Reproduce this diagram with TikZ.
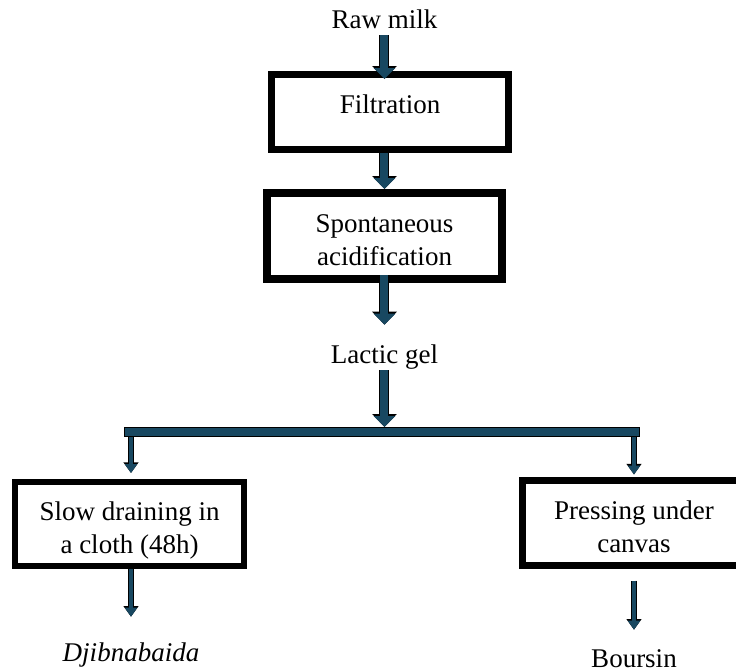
\documentclass[tikz,border=0pt]{standalone}
\usepackage{fontspec}
\setmainfont{Liberation Serif}
\usetikzlibrary{arrows.meta, positioning}
\definecolor{arrowblue}{RGB}{24,72,97}
\tikzset{
  box/.style={draw, line width=3.5pt, align=center, inner sep=0pt},
  lbl/.style={inner sep=0pt, text height=9.45pt, text depth=3.4pt, anchor=base},
  flow/.style={draw=arrowblue, line width=4pt, -{Triangle[width=10.5pt,length=5.5pt]},
    preaction={draw=black, line width=5pt, -{Triangle[width=12pt,length=6.5pt]}}},
  thinflow/.style={draw=arrowblue, line width=2pt, -{Triangle[width=6pt,length=4.5pt]},
    preaction={draw=black, line width=3pt, -{Triangle[width=7.2pt,length=5.3pt]}}},
  bar/.style={draw=arrowblue, line width=4pt, line cap=rect,
    preaction={draw=black, line width=5pt, line cap=rect}}
}

\begin{document}
\begin{tikzpicture}[x=0.5pt, y=-0.5pt, font=\fontsize{13.5}{16.5}\selectfont]
\useasboundingbox (0,0) rectangle (736,671);
\clip (0,0) rectangle (736,671);

\node[lbl] (raw) at (384.5,28) {Raw milk};
\node[box, text depth=8pt, minimum width=118.5pt, minimum height=37.5pt] (filt) at (390,112) {Filtration};
\node[box, line width=4pt, minimum width=117.5pt, minimum height=43pt] (acid) at (384.5,236) {\rule{0pt}{13.4pt}Spontaneous\\acidification};
\node[lbl] (gel) at (384.5,363) {Lactic gel};
\coordinate (split) at (384.5,432);
\node[box, line width=3pt, minimum width=114.5pt, minimum height=42pt] (drain) at (129.5,524) {\rule{0pt}{16.2pt}Slow draining in\\a cloth (48h)};
\node[box, minimum width=111.5pt, minimum height=42.5pt] (press) at (634,523) {\rule{0pt}{12.7pt}Pressing under\\canvas};
\node[lbl, font=\fontsize{13.5}{16.5}\selectfont\itshape] (djib) at (131,661) {Djibnabaida};
\node[lbl] (bour) at (634,667) {Boursin};
\coordinate (lsplit) at (djib |- split);
\coordinate (rsplit) at (bour |- split);

\draw[flow] (raw) -- ([yshift=-4pt]filt.north -| raw);
\draw[flow] (filt.south -| acid) -- (acid);
\draw[flow, shorten <=-4pt, shorten >=9.5pt] (acid) -- (gel);
\draw[flow, shorten >=2.5pt] (gel) -- (split);
\draw[thinflow, shorten >=3pt] (lsplit) -- (drain.north -| lsplit);
\draw[thinflow, shorten >=1.25pt] (rsplit) -- (press);
\draw[bar] ([xshift=-1pt]lsplit) -- ([xshift=0.5pt]rsplit);
\draw[thinflow, shorten >=12.5pt] (drain.south -| djib) -- (djib);
\draw[thinflow, shorten <=5.75pt, shorten >=9pt] (press) -- (bour);

\end{tikzpicture}
\end{document}
